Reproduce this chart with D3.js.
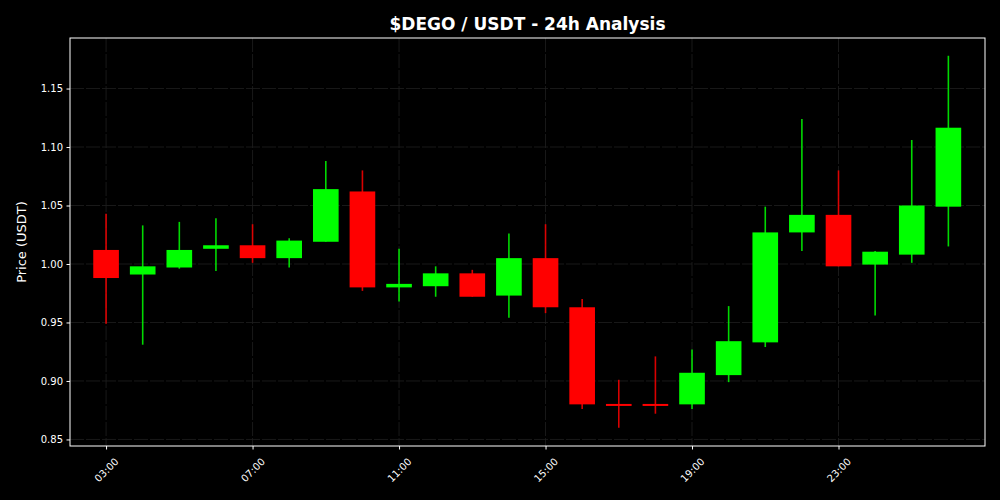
<!DOCTYPE html>
<html>
<head>
<meta charset="utf-8">
<script src="https://cdn.jsdelivr.net/npm/d3@7"></script>
<style>
  body { margin: 0; background: #000; }
  svg { display: block; font-family: "DejaVu Sans", sans-serif; }
</style>
</head>
<body>
<div id="chart"></div>
<script>
// hourly candles, 03:00 -> 02:00
const hours = ["03:00","04:00","05:00","06:00","07:00","08:00","09:00","10:00","11:00","12:00","13:00","14:00",
               "15:00","16:00","17:00","18:00","19:00","20:00","21:00","22:00","23:00","00:00","01:00","02:00"];
const opens  = [1.012, 0.991, 0.997, 1.013, 1.016, 1.005, 1.019, 1.062, 0.980, 0.981, 0.992, 0.973,
                1.005, 0.963, 0.880, 0.880, 0.880, 0.905, 0.933, 1.027, 1.042, 0.9995, 1.008, 1.049];
const highs  = [1.043, 1.033, 1.036, 1.039, 1.034, 1.022, 1.088, 1.080, 1.013, 0.998, 0.995, 1.026,
                1.034, 0.970, 0.901, 0.921, 0.927, 0.964, 1.049, 1.124, 1.080, 1.011, 1.106, 1.178];
const lows   = [0.949, 0.931, 0.996, 0.994, 1.001, 0.997, 1.019, 0.977, 0.968, 0.972, 0.972, 0.954,
                0.958, 0.876, 0.860, 0.872, 0.876, 0.899, 0.929, 1.011, 0.998, 0.956, 1.001, 1.015];
const closes = [0.988, 0.998, 1.012, 1.016, 1.005, 1.020, 1.064, 0.980, 0.983, 0.992, 0.972, 1.005,
                0.963, 0.880, 0.879, 0.879, 0.907, 0.934, 1.027, 1.042, 0.998, 1.0105, 1.050, 1.1165];
const yTicks = [0.85, 0.90, 0.95, 1.00, 1.05, 1.10, 1.15];
const xTickIdx = [0, 4, 8, 12, 16, 20];

const width = 1000, height = 500;
const margin = { top: 38, right: 15, bottom: 54, left: 70 };

const svg = d3.select("#chart").append("svg")
  .attr("width", width)
  .attr("height", height);

svg.append("rect").attr("width", width).attr("height", height).attr("fill", "#000");

const x = d3.scaleLinear()
  .domain([-0.985, 24.0])
  .range([margin.left, width - margin.right]);

const y = d3.scaleLinear()
  .domain([0.8444, 1.1932])
  .range([height - margin.bottom, margin.top]);

// grid (very faint)
const grid = svg.append("g").attr("stroke", "#1f1f1f")
  .attr("stroke-dasharray", "14,2").attr("stroke-width", 0.8);
yTicks.forEach(v => {
  grid.append("line").attr("x1", margin.left).attr("x2", width - margin.right)
    .attr("y1", y(v)).attr("y2", y(v));
});
xTickIdx.forEach(i => {
  grid.append("line").attr("y1", margin.top).attr("y2", height - margin.bottom)
    .attr("x1", x(i)).attr("x2", x(i));
});

// candles
const candles = hours.map((h, i) => ({ i, o: opens[i], h: highs[i], l: lows[i], c: closes[i] }));
const bodyW = x(0.7) - x(0);
const col = d => d.c >= d.o ? "#00ff00" : "#ff0000";

svg.append("g").selectAll("line")
  .data(candles)
  .enter()
  .append("line")
  .attr("x1", d => x(d.i)).attr("x2", d => x(d.i))
  .attr("y1", d => y(d.h)).attr("y2", d => y(d.l))
  .attr("stroke", col)
  .attr("stroke-opacity", 0.85)
  .attr("stroke-width", 1.6);

svg.append("g").selectAll("rect")
  .data(candles)
  .enter()
  .append("rect")
  .attr("x", d => x(d.i) - bodyW / 2)
  .attr("width", bodyW)
  .attr("y", d => {
    const t = y(Math.max(d.o, d.c)), b = y(Math.min(d.o, d.c));
    return b - t < 2 ? (t + b) / 2 - 1 : t;
  })
  .attr("height", d => Math.max(2, y(Math.min(d.o, d.c)) - y(Math.max(d.o, d.c))))
  .attr("fill", col);

// frame
svg.append("rect")
  .attr("x", margin.left).attr("y", margin.top)
  .attr("width", width - margin.left - margin.right)
  .attr("height", height - margin.top - margin.bottom)
  .attr("fill", "none").attr("stroke", "#fff").attr("stroke-width", 1);

// y axis
const yAxis = svg.append("g")
  .attr("transform", `translate(${margin.left}, 0)`)
  .call(d3.axisLeft(y).tickValues(yTicks).tickFormat(d3.format(".2f")).tickSize(3.5).tickPadding(3.5));
yAxis.select(".domain").remove();
yAxis.selectAll("line").attr("stroke", "#fff");
yAxis.selectAll("text").attr("fill", "#fff").style("font-size", "10px").style("font-family", "DejaVu Sans");

// x axis
const xAxis = svg.append("g")
  .attr("transform", `translate(0, ${height - margin.bottom})`)
  .call(d3.axisBottom(x).tickValues(xTickIdx).tickFormat(i => hours[i]).tickSize(3.5));
xAxis.select(".domain").remove();
xAxis.selectAll("line").attr("stroke", "#fff");
xAxis.selectAll("text")
  .attr("fill", "#fff")
  .style("font-size", "10px")
  .style("font-family", "DejaVu Sans")
  .attr("text-anchor", "middle")
  .attr("dy", "0.35em")
  .attr("y", 0)
  .attr("transform", "translate(0, 24) rotate(-45)");

// labels
svg.append("text")
  .attr("x", (margin.left + width - margin.right) / 2)
  .attr("y", 30)
  .attr("text-anchor", "middle")
  .attr("fill", "#fff")
  .style("font-size", "17px")
  .style("font-weight", "bold")
  .text("$DEGO / USDT - 24h Analysis");

svg.append("text")
  .attr("transform", "rotate(-90)")
  .attr("x", -(margin.top + (height - margin.top - margin.bottom) / 2))
  .attr("y", 26)
  .attr("text-anchor", "middle")
  .attr("fill", "#fff")
  .style("font-size", "13px")
  .text("Price (USDT)");
</script>
</body>
</html>
